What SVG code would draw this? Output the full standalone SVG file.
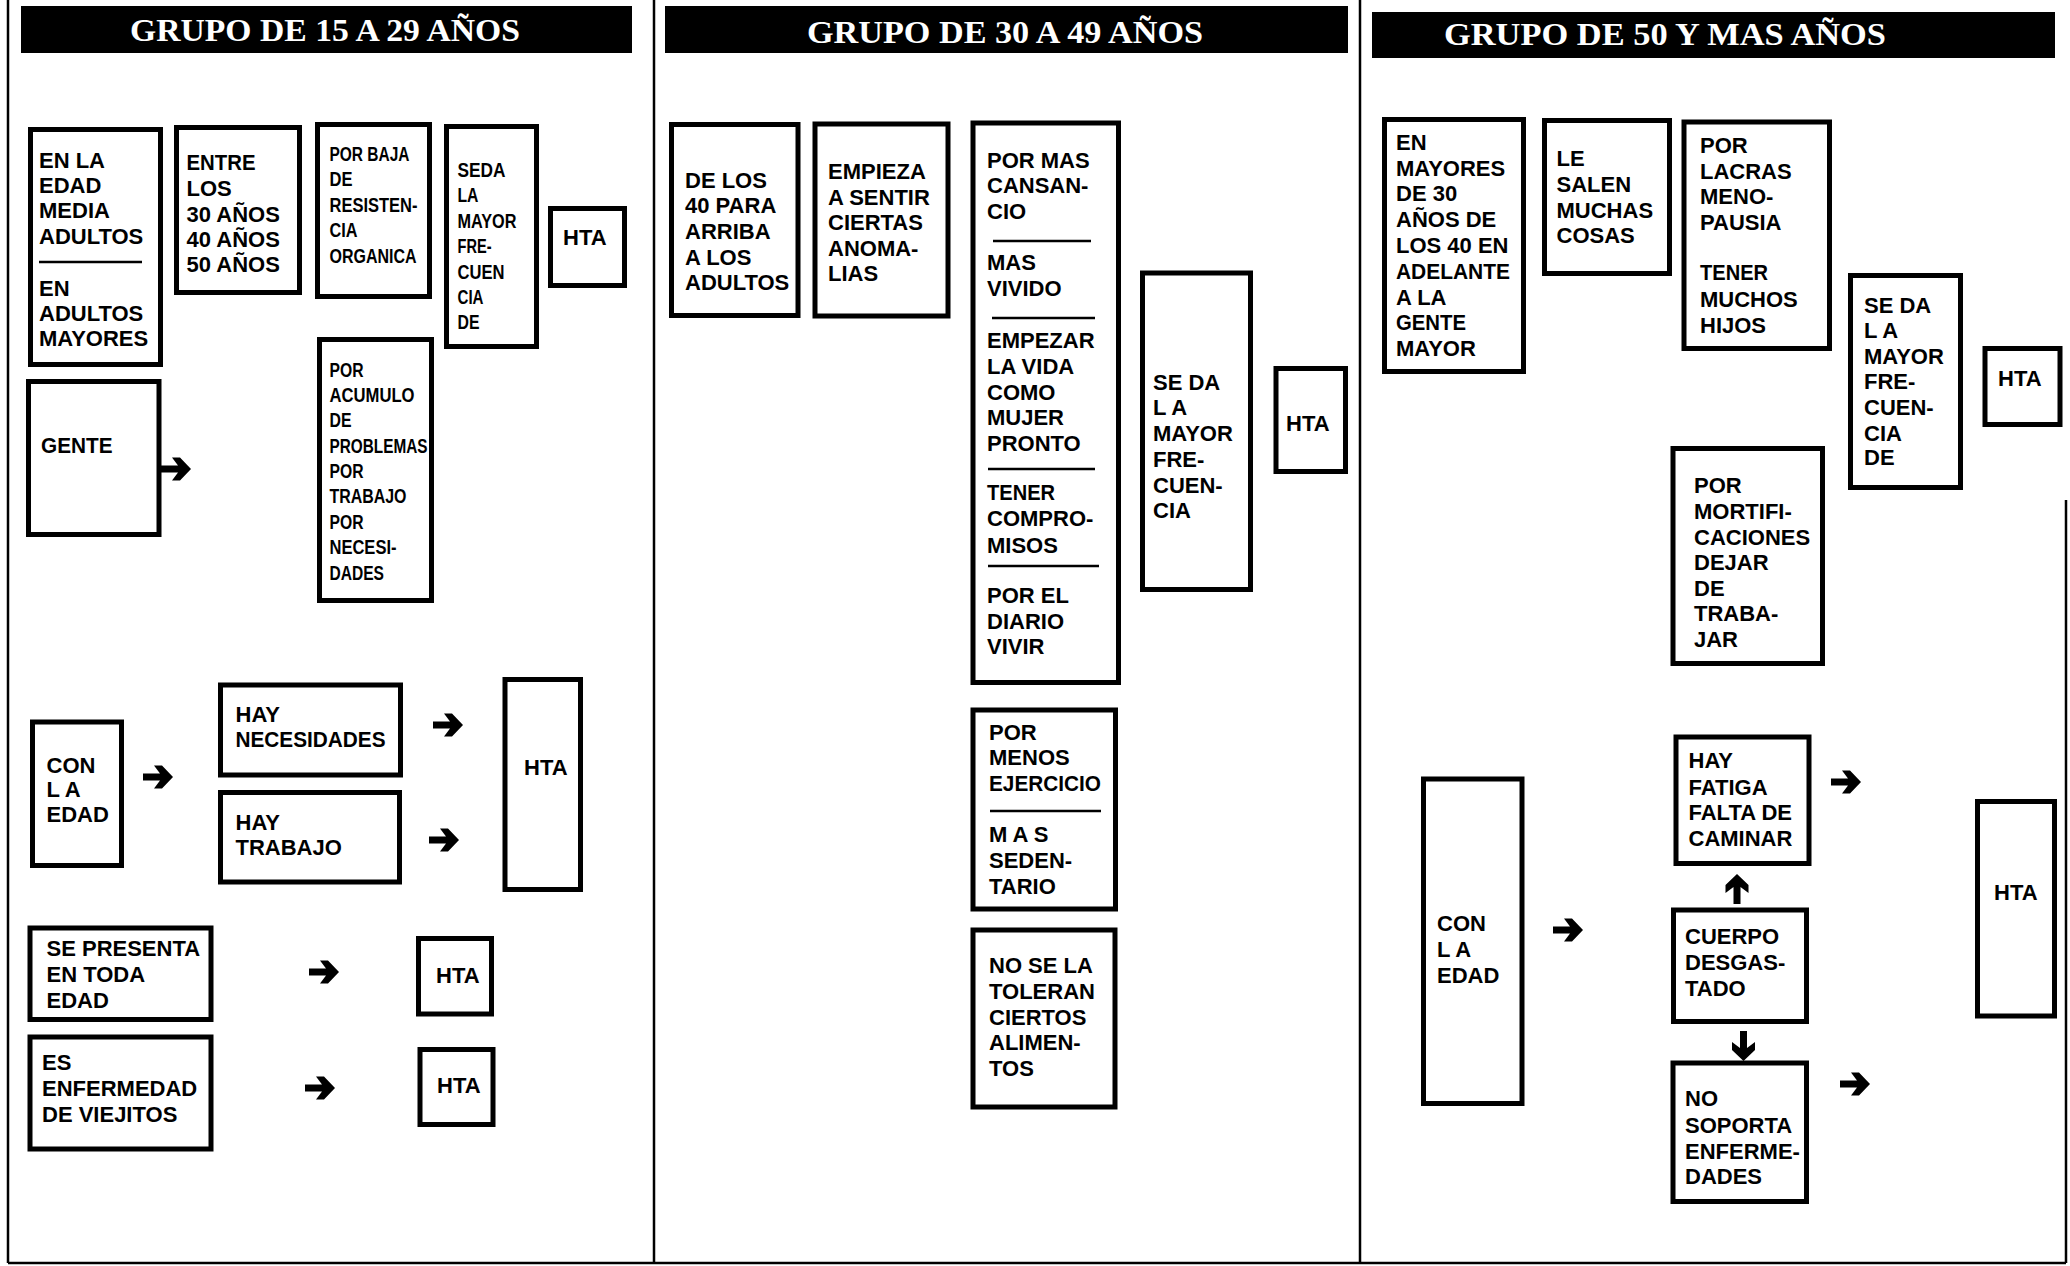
<svg xmlns="http://www.w3.org/2000/svg" xmlns:xlink="http://www.w3.org/1999/xlink" width="2070" height="1266" viewBox="0 0 2070 1266">
  <style>
    .box { fill: #fff; stroke: #000; stroke-width: 5; }
    .t { font-family: "Liberation Sans", Arial, sans-serif; font-weight: bold; font-size: 22px; fill: #000; }
    .n { font-size: 20px; }
    .sep { stroke: #000; stroke-width: 2.5; }
    .frame { stroke: #000; stroke-width: 2.5; fill: none; }
    .bar { fill: #000; }
    .title { font-family: "Liberation Serif", "Times New Roman", serif; font-weight: bold; font-size: 32px; fill: #fff; }
    .arrow { fill: #000; }
  </style>
  <defs>
    <!-- heavy right-pointing arrow, 30 long, origin at the tail -->
    <path id="arr" class="arrow" d="M0,-3.5 H17 L11,-11.5 H19 L30,0 L19,11.5 H11 L17,3.5 H0 Z"/>
  </defs>

  <rect width="2070" height="1266" fill="#fff"/>

  <!-- panel frame -->
  <g id="frame">
    <line class="frame" x1="8" y1="0" x2="8" y2="1263"/>
    <line class="frame" x1="654" y1="0" x2="654" y2="1263"/>
    <line class="frame" x1="1360" y1="0" x2="1360" y2="1263"/>
    <line class="frame" x1="2066" y1="500" x2="2066" y2="1263"/>
    <line class="frame" x1="8" y1="1263" x2="2066" y2="1263"/>
  </g>

  <!-- headers -->
  <g id="header-1">
    <rect class="bar" x="21" y="6" width="611" height="47"/>
    <text class="title" x="130" y="41" textLength="390" lengthAdjust="spacingAndGlyphs">GRUPO DE 15 A 29 AÑOS</text>
  </g>
  <g id="header-2">
    <rect class="bar" x="665" y="6" width="683" height="47"/>
    <text class="title" x="807" y="43" textLength="396" lengthAdjust="spacingAndGlyphs">GRUPO DE 30 A 49 AÑOS</text>
  </g>
  <g id="header-3">
    <rect class="bar" x="1372" y="12" width="683" height="46"/>
    <text class="title" x="1444" y="45" textLength="442" lengthAdjust="spacingAndGlyphs">GRUPO DE 50 Y MAS AÑOS</text>
  </g>

  <!-- ===== Grupo de 15 a 29 años ===== -->
  <g id="n-edad-media">
    <rect class="box" x="30.5" y="129.5" width="130" height="235"/>
    <text class="t"><tspan x="39" y="167.5">EN LA</tspan><tspan x="39" y="193">EDAD</tspan><tspan x="39" y="218">MEDIA</tspan><tspan x="39" y="243.5">ADULTOS</tspan></text>
    <line class="sep" x1="39" y1="262" x2="142" y2="262"/>
    <text class="t"><tspan x="39" y="295.5">EN</tspan><tspan x="39" y="321">ADULTOS</tspan><tspan x="39" y="346">MAYORES</tspan></text>
  </g>
  <g id="n-entre">
    <rect class="box" x="176.5" y="127.5" width="123" height="165"/>
    <text class="t"><tspan x="186.5" y="169.5" textLength="69" lengthAdjust="spacingAndGlyphs">ENTRE</tspan><tspan x="186.5" y="196">LOS</tspan><tspan x="186.5" y="221.5">30 AÑOS</tspan><tspan x="186.5" y="247">40 AÑOS</tspan><tspan x="186.5" y="272">50 AÑOS</tspan></text>
  </g>
  <g id="n-baja-resistencia">
    <rect class="box" x="317.5" y="124.5" width="112" height="172"/>
    <text class="t n"><tspan x="329.5" y="161" textLength="80" lengthAdjust="spacingAndGlyphs">POR BAJA</tspan><tspan x="329.5" y="186" textLength="23" lengthAdjust="spacingAndGlyphs">DE</tspan><tspan x="329.5" y="212" textLength="88" lengthAdjust="spacingAndGlyphs">RESISTEN-</tspan><tspan x="329.5" y="237" textLength="28" lengthAdjust="spacingAndGlyphs">CIA</tspan><tspan x="329.5" y="263" textLength="87" lengthAdjust="spacingAndGlyphs">ORGANICA</tspan></text>
  </g>
  <g id="n-se-da-1">
    <rect class="box" x="446.5" y="126.5" width="90" height="220"/>
    <text class="t n"><tspan x="457.5" y="176.5" textLength="48" lengthAdjust="spacingAndGlyphs">SEDA</tspan><tspan x="457.5" y="202" textLength="21" lengthAdjust="spacingAndGlyphs">LA</tspan><tspan x="457.5" y="228" textLength="59" lengthAdjust="spacingAndGlyphs">MAYOR</tspan><tspan x="457.5" y="253" textLength="34" lengthAdjust="spacingAndGlyphs">FRE-</tspan><tspan x="457.5" y="279" textLength="47" lengthAdjust="spacingAndGlyphs">CUEN</tspan><tspan x="457.5" y="304" textLength="26" lengthAdjust="spacingAndGlyphs">CIA</tspan><tspan x="457.5" y="329" textLength="22" lengthAdjust="spacingAndGlyphs">DE</tspan></text>
  </g>
  <g id="n-hta-1">
    <rect class="box" x="550.5" y="208.5" width="74" height="77"/>
    <text class="t" x="563" y="245">HTA</text>
  </g>
  <g id="n-gente">
    <rect class="box" x="28.5" y="381.5" width="130.5" height="153"/>
    <text class="t" x="41" y="453" textLength="71.5" lengthAdjust="spacingAndGlyphs">GENTE</text>
  </g>
  <g id="n-acumulo">
    <rect class="box" x="319.5" y="339.5" width="112" height="261"/>
    <text class="t n"><tspan x="329.5" y="376.5" textLength="34" lengthAdjust="spacingAndGlyphs">POR</tspan><tspan x="329.5" y="401.5" textLength="85" lengthAdjust="spacingAndGlyphs">ACUMULO</tspan><tspan x="329.5" y="427" textLength="22" lengthAdjust="spacingAndGlyphs">DE</tspan><tspan x="329.5" y="452.5" textLength="98" lengthAdjust="spacingAndGlyphs">PROBLEMAS</tspan><tspan x="329.5" y="478" textLength="34" lengthAdjust="spacingAndGlyphs">POR</tspan><tspan x="329.5" y="503" textLength="77" lengthAdjust="spacingAndGlyphs">TRABAJO</tspan><tspan x="329.5" y="528.5" textLength="34" lengthAdjust="spacingAndGlyphs">POR</tspan><tspan x="329.5" y="554" textLength="67" lengthAdjust="spacingAndGlyphs">NECESI-</tspan><tspan x="329.5" y="579.5" textLength="54.5" lengthAdjust="spacingAndGlyphs">DADES</tspan></text>
  </g>
  <g id="n-con-edad-1">
    <rect class="box" x="32.5" y="722" width="89" height="143.5"/>
    <text class="t"><tspan x="46.5" y="772.5">CON</tspan><tspan x="46.5" y="797">L A</tspan><tspan x="46.5" y="822">EDAD</tspan></text>
  </g>
  <g id="n-hay-necesidades">
    <rect class="box" x="220.5" y="685" width="180" height="90"/>
    <text class="t"><tspan x="235.5" y="721.5">HAY</tspan><tspan x="235.5" y="746.5" textLength="150" lengthAdjust="spacingAndGlyphs">NECESIDADES</tspan></text>
  </g>
  <g id="n-hay-trabajo">
    <rect class="box" x="220.5" y="792.5" width="179" height="89.5"/>
    <text class="t"><tspan x="235.5" y="829.5">HAY</tspan><tspan x="235.5" y="854.5">TRABAJO</tspan></text>
  </g>
  <g id="n-hta-2">
    <rect class="box" x="505" y="679.5" width="75.5" height="210"/>
    <text class="t" x="524" y="774.5">HTA</text>
  </g>
  <g id="n-toda-edad">
    <rect class="box" x="30" y="928" width="181" height="91.5"/>
    <text class="t"><tspan x="46.5" y="956">SE PRESENTA</tspan><tspan x="46.5" y="981.5">EN TODA</tspan><tspan x="46.5" y="1007.5">EDAD</tspan></text>
  </g>
  <g id="n-hta-3">
    <rect class="box" x="418.5" y="938.5" width="73" height="75.5"/>
    <text class="t" x="436" y="982.5">HTA</text>
  </g>
  <g id="n-viejitos">
    <rect class="box" x="30" y="1037" width="181" height="112"/>
    <text class="t"><tspan x="42" y="1070">ES</tspan><tspan x="42" y="1096">ENFERMEDAD</tspan><tspan x="42" y="1122">DE VIEJITOS</tspan></text>
  </g>
  <g id="n-hta-4">
    <rect class="box" x="420" y="1049.5" width="73" height="75"/>
    <text class="t" x="437" y="1093">HTA</text>
  </g>

  <!-- ===== Grupo de 30 a 49 años ===== -->
  <g id="n-de-los-40">
    <rect class="box" x="671.5" y="124.5" width="126.5" height="191"/>
    <text class="t"><tspan x="685" y="187.5">DE LOS</tspan><tspan x="685" y="213">40 PARA</tspan><tspan x="685" y="239">ARRIBA</tspan><tspan x="685" y="264.5">A LOS</tspan><tspan x="685" y="290">ADULTOS</tspan></text>
  </g>
  <g id="n-anomalias">
    <rect class="box" x="815" y="124" width="133" height="192"/>
    <text class="t"><tspan x="828" y="178.5">EMPIEZA</tspan><tspan x="828" y="204.5">A SENTIR</tspan><tspan x="828" y="230">CIERTAS</tspan><tspan x="828" y="255.5">ANOMA-</tspan><tspan x="828" y="281">LIAS</tspan></text>
  </g>
  <g id="n-causas-2">
    <rect class="box" x="973" y="123" width="145.5" height="559.5"/>
    <text class="t"><tspan x="987" y="167.5">POR MAS</tspan><tspan x="987" y="193">CANSAN-</tspan><tspan x="987" y="218.5">CIO</tspan></text>
    <line class="sep" x1="993" y1="241" x2="1091" y2="241"/>
    <text class="t"><tspan x="987" y="270">MAS</tspan><tspan x="987" y="296">VIVIDO</tspan></text>
    <line class="sep" x1="992" y1="318" x2="1095" y2="318"/>
    <text class="t"><tspan x="987" y="348">EMPEZAR</tspan><tspan x="987" y="374">LA VIDA</tspan><tspan x="987" y="399.5">COMO</tspan><tspan x="987" y="425">MUJER</tspan><tspan x="987" y="450.5">PRONTO</tspan></text>
    <line class="sep" x1="988" y1="469" x2="1095" y2="469"/>
    <text class="t"><tspan x="987" y="500" textLength="68" lengthAdjust="spacingAndGlyphs">TENER</tspan><tspan x="987" y="526">COMPRO-</tspan><tspan x="987" y="552.5">MISOS</tspan></text>
    <line class="sep" x1="988" y1="566" x2="1099" y2="566"/>
    <text class="t"><tspan x="987" y="602.5">POR EL</tspan><tspan x="987" y="628.5">DIARIO</tspan><tspan x="987" y="654">VIVIR</tspan></text>
  </g>
  <g id="n-se-da-2">
    <rect class="box" x="1142.5" y="273" width="108" height="316.5"/>
    <text class="t"><tspan x="1153" y="389.5">SE DA</tspan><tspan x="1153" y="415">L A</tspan><tspan x="1153" y="441">MAYOR</tspan><tspan x="1153" y="466.5">FRE-</tspan><tspan x="1153" y="492.5">CUEN-</tspan><tspan x="1153" y="517.5">CIA</tspan></text>
  </g>
  <g id="n-hta-5">
    <rect class="box" x="1276" y="368.5" width="69.5" height="103"/>
    <text class="t" x="1286" y="431">HTA</text>
  </g>
  <g id="n-ejercicio">
    <rect class="box" x="973" y="710" width="142.5" height="199"/>
    <text class="t"><tspan x="989" y="739.5">POR</tspan><tspan x="989" y="765">MENOS</tspan><tspan x="989" y="790.5" textLength="112" lengthAdjust="spacingAndGlyphs">EJERCICIO</tspan></text>
    <line class="sep" x1="990" y1="811" x2="1101" y2="811"/>
    <text class="t"><tspan x="989" y="842">M A S</tspan><tspan x="989" y="868">SEDEN-</tspan><tspan x="989" y="893.5">TARIO</tspan></text>
  </g>
  <g id="n-alimentos">
    <rect class="box" x="973" y="930" width="142" height="177"/>
    <text class="t"><tspan x="989" y="973">NO SE LA</tspan><tspan x="989" y="999">TOLERAN</tspan><tspan x="989" y="1024.5">CIERTOS</tspan><tspan x="989" y="1050">ALIMEN-</tspan><tspan x="989" y="1075.5">TOS</tspan></text>
  </g>

  <!-- ===== Grupo de 50 y mas años ===== -->
  <g id="n-mayores-30">
    <rect class="box" x="1384.5" y="119.5" width="139" height="252"/>
    <text class="t"><tspan x="1396" y="149.5">EN</tspan><tspan x="1396" y="175.5">MAYORES</tspan><tspan x="1396" y="201">DE 30</tspan><tspan x="1396" y="227">AÑOS DE</tspan><tspan x="1396" y="253">LOS 40 EN</tspan><tspan x="1396" y="279" textLength="114" lengthAdjust="spacingAndGlyphs">ADELANTE</tspan><tspan x="1396" y="305">A  LA</tspan><tspan x="1396" y="330" textLength="70" lengthAdjust="spacingAndGlyphs">GENTE</tspan><tspan x="1396" y="356">MAYOR</tspan></text>
  </g>
  <g id="n-cosas">
    <rect class="box" x="1544.5" y="120.5" width="125" height="153"/>
    <text class="t"><tspan x="1556.5" y="166">LE</tspan><tspan x="1556.5" y="192">SALEN</tspan><tspan x="1556.5" y="218">MUCHAS</tspan><tspan x="1556.5" y="243">COSAS</tspan></text>
  </g>
  <g id="n-menopausia">
    <rect class="box" x="1684" y="122" width="145.5" height="226.5"/>
    <text class="t"><tspan x="1700" y="152.5">POR</tspan><tspan x="1700" y="178.5">LACRAS</tspan><tspan x="1700" y="204">MENO-</tspan><tspan x="1700" y="229.5">PAUSIA</tspan><tspan x="1700" y="280" textLength="68" lengthAdjust="spacingAndGlyphs">TENER</tspan><tspan x="1700" y="306.5">MUCHOS</tspan><tspan x="1700" y="332.5">HIJOS</tspan></text>
  </g>
  <g id="n-se-da-3">
    <rect class="box" x="1850.5" y="275.5" width="110" height="212"/>
    <text class="t"><tspan x="1864" y="312.5">SE DA</tspan><tspan x="1864" y="337.5">L A</tspan><tspan x="1864" y="364">MAYOR</tspan><tspan x="1864" y="389">FRE-</tspan><tspan x="1864" y="415">CUEN-</tspan><tspan x="1864" y="440.5">CIA</tspan><tspan x="1864" y="465">DE</tspan></text>
  </g>
  <g id="n-hta-6">
    <rect class="box" x="1985" y="348.5" width="75" height="76"/>
    <text class="t" x="1998" y="386">HTA</text>
  </g>
  <g id="n-mortificaciones">
    <rect class="box" x="1673" y="448.5" width="149.5" height="215"/>
    <text class="t"><tspan x="1694" y="493">POR</tspan><tspan x="1694" y="519">MORTIFI-</tspan><tspan x="1694" y="544.5">CACIONES</tspan><tspan x="1694" y="570">DEJAR</tspan><tspan x="1694" y="596">DE</tspan><tspan x="1694" y="621">TRABA-</tspan><tspan x="1694" y="646.5">JAR</tspan></text>
  </g>
  <g id="n-con-edad-3">
    <rect class="box" x="1423.5" y="779" width="98.5" height="324.5"/>
    <text class="t"><tspan x="1437" y="931">CON</tspan><tspan x="1437" y="957">L A</tspan><tspan x="1437" y="983">EDAD</tspan></text>
  </g>
  <g id="n-fatiga">
    <rect class="box" x="1676" y="737" width="133" height="126.5"/>
    <text class="t"><tspan x="1688.5" y="768">HAY</tspan><tspan x="1688.5" y="794.5">FATIGA</tspan><tspan x="1688.5" y="820">FALTA DE</tspan><tspan x="1688.5" y="846">CAMINAR</tspan></text>
  </g>
  <g id="n-desgastado">
    <rect class="box" x="1673.5" y="910" width="133" height="111.5"/>
    <text class="t"><tspan x="1685" y="944">CUERPO</tspan><tspan x="1685" y="970">DESGAS-</tspan><tspan x="1685" y="996">TADO</tspan></text>
  </g>
  <g id="n-enfermedades">
    <rect class="box" x="1673" y="1063" width="133.5" height="138.5"/>
    <text class="t"><tspan x="1685" y="1106">NO</tspan><tspan x="1685" y="1132.5">SOPORTA</tspan><tspan x="1685" y="1159">ENFERME-</tspan><tspan x="1685" y="1184">DADES</tspan></text>
  </g>
  <g id="n-hta-7">
    <rect class="box" x="1977.5" y="801.5" width="77" height="214.5"/>
    <text class="t" x="1994" y="899.5">HTA</text>
  </g>

  <!-- connectors -->
  <g id="connectors">
    <use xlink:href="#arr" href="#arr" transform="translate(161,469)"/>
    <use xlink:href="#arr" href="#arr" transform="translate(143,777)"/>
    <use xlink:href="#arr" href="#arr" transform="translate(433,725)"/>
    <use xlink:href="#arr" href="#arr" transform="translate(429,840)"/>
    <use xlink:href="#arr" href="#arr" transform="translate(309,972)"/>
    <use xlink:href="#arr" href="#arr" transform="translate(305,1088)"/>
    <use xlink:href="#arr" href="#arr" transform="translate(1553,930)"/>
    <use xlink:href="#arr" href="#arr" transform="translate(1831,782)"/>
    <use xlink:href="#arr" href="#arr" transform="translate(1840,1084)"/>
    <use xlink:href="#arr" href="#arr" transform="translate(1737,904) rotate(-90)"/>
    <use xlink:href="#arr" href="#arr" transform="translate(1743.5,1031) rotate(90)"/>
  </g>
</svg>
